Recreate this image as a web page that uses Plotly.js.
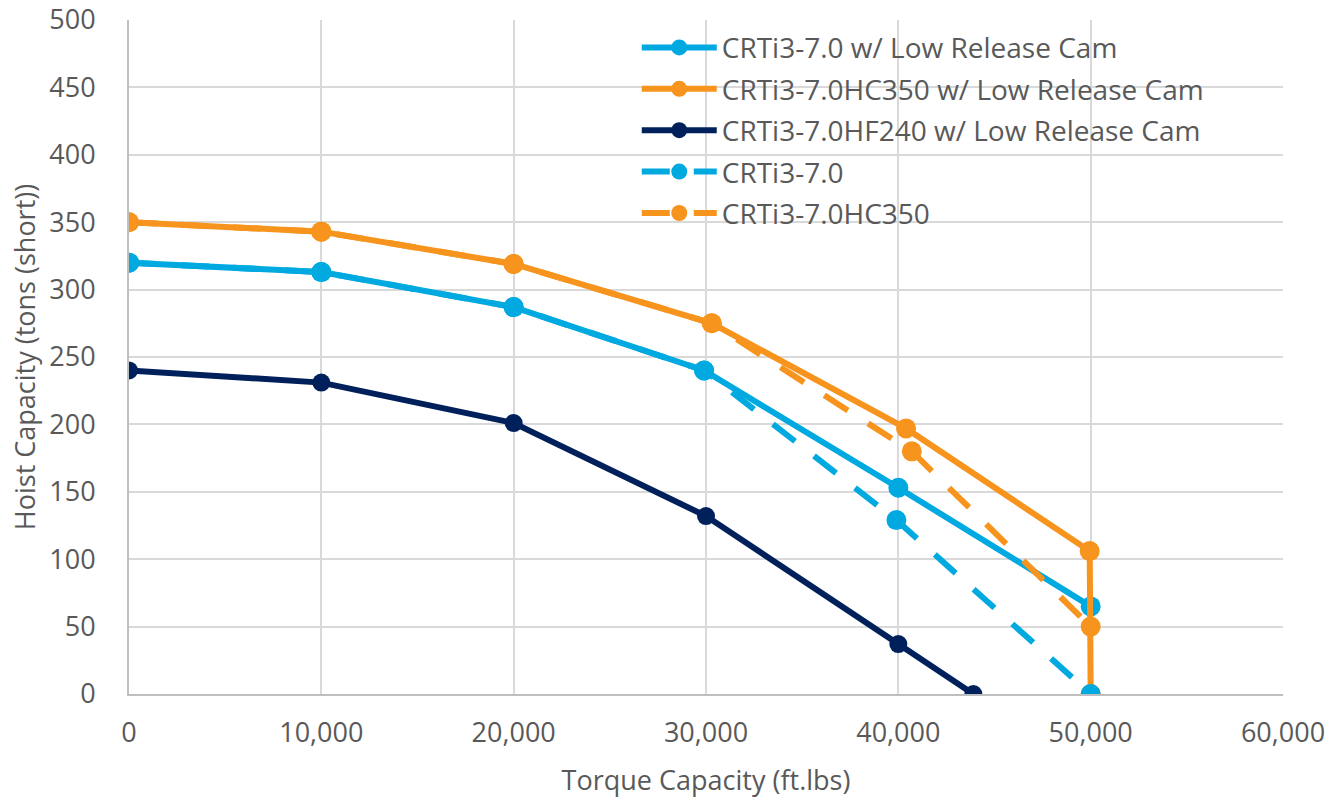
<!DOCTYPE html>
<html>
<head>
<meta charset="utf-8">
<script src="https://cdn.plot.ly/plotly-3.0.1.min.js"></script>
<style>html,body{margin:0;padding:0;background:#fff;}#chart{width:1340px;height:798px;}</style>
</head>
<body>
<div id="chart"></div>
<script>
// Series names
const seriesNames = [
  "CRTi3-7.0 w/ Low Release Cam",
  "CRTi3-7.0HC350 w/ Low Release Cam",
  "CRTi3-7.0HF240 w/ Low Release Cam",
  "CRTi3-7.0",
  "CRTi3-7.0HC350"
];
// Torque (ft.lbs) and hoist capacity (tons short)
const x_crti3_lrc      = [0, 10000, 20000, 29900, 40000, 50000];
const y_crti3_lrc      = [320, 313, 287, 240, 153, 65];
const x_hc350_lrc      = [0, 10000, 20000, 30300, 40400, 49950, 50000];
const y_hc350_lrc      = [350, 343, 319, 275, 197, 106, 0];
const x_hf240_lrc      = [0, 10000, 20000, 30000, 40000, 43900];
const y_hf240_lrc      = [240, 231, 201, 132, 37, 0];
const x_crti3          = [0, 10000, 20000, 29900, 39900, 50000];
const y_crti3          = [320, 313, 287, 240, 129, 0];
const x_hc350          = [0, 10000, 20000, 30300, 40700, 50000];
const y_hc350          = [350, 343, 319, 275, 180, 50];

const cyan = "#00A9E0", orange = "#F7941D", navy = "#00205B";
const lw = 6;

function tr(x, y, name, color, dash, msize) {
  return {
    x: x, y: y, name: name, type: "scatter", mode: "lines+markers",
    line: {color: color, width: lw, dash: dash},
    marker: {color: color, size: msize},
    legendgroup: name
  };
}

const data = [
  tr(x_crti3_lrc, y_crti3_lrc, seriesNames[0], cyan, "solid", 20),
  tr(x_hc350_lrc, y_hc350_lrc, seriesNames[1], orange, "solid", 20),
  tr(x_hf240_lrc, y_hf240_lrc, seriesNames[2], navy, "solid", 18),
  tr(x_crti3, y_crti3, seriesNames[3], cyan, "28px,24px", 20),
  tr(x_hc350, y_hc350, seriesNames[4], orange, "28px,24px", 20)
];

const fontFam = "Open Sans, sans-serif";
const txt = "#595959";
const layout = {
  width: 1340, height: 798,
  margin: {l: 129, r: 57, t: 20, b: 104},
  paper_bgcolor: "#fff", plot_bgcolor: "#fff",
  font: {family: fontFam, color: txt, size: 27},
  xaxis: {
    range: [0, 60000], dtick: 10000, tickformat: ",d",
    showgrid: true, gridcolor: "#d9d9d9", gridwidth: 2,
    showline: true, linecolor: "#bfbfbf", linewidth: 2,
    zeroline: false, ticks: "",
    ticklabelstandoff: 14,
    tickfont: {size: 27, color: txt},
    title: {text: "Torque Capacity (ft.lbs)", font: {size: 27, color: txt}, standoff: 22}
  },
  yaxis: {
    range: [0, 500], dtick: 50,
    showgrid: true, gridcolor: "#d9d9d9", gridwidth: 2,
    showline: true, linecolor: "#bfbfbf", linewidth: 2,
    zeroline: false, ticks: "",
    ticklabelstandoff: 26,
    tickfont: {size: 27, color: txt},
    title: {text: "Hoist Capacity (tons (short))", font: {size: 27, color: txt}, standoff: 6}
  },
  legend: {
    x: 0.44, y: 0.996, xanchor: "left", yanchor: "top",
    bgcolor: "rgba(255,255,255,0)",
    font: {size: 28, color: txt},
    tracegroupgap: 2, itemwidth: 75
  },
  showlegend: true
};

Plotly.newPlot("chart", data, layout, {displayModeBar: false, staticPlot: true});
</script>
</body>
</html>
